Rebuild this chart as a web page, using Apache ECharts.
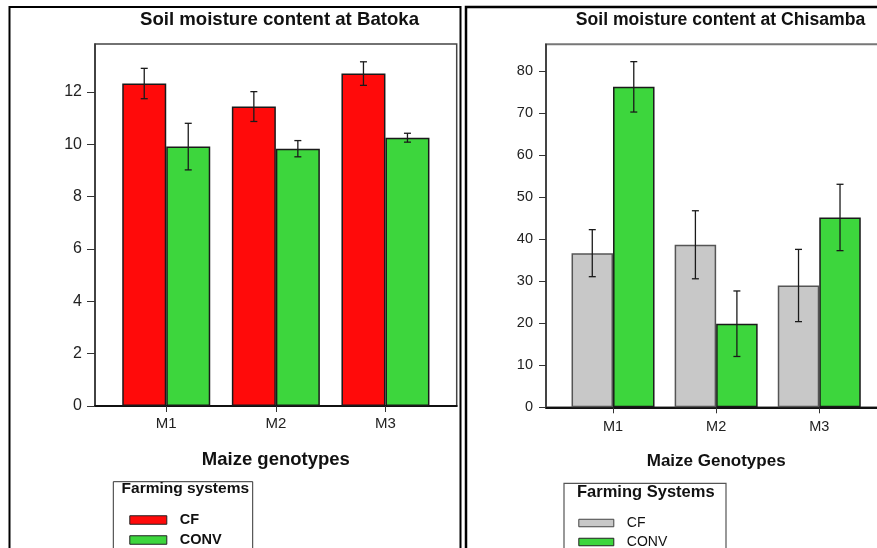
<!DOCTYPE html>
<html>
<head>
<meta charset="utf-8">
<script src="https://cdn.jsdelivr.net/npm/echarts@6/dist/echarts.min.js"></script>
<style>
html,body{margin:0;padding:0;background:#fff;}
#chart{width:877px;height:548px;}
</style>
</head>
<body>
<div id="chart"></div>
<script>
// ---- data ----
var genotypes = ['M1', 'M2', 'M3'];
var batokaCF = [12.32, 11.44, 12.70];
var batokaCFErr = [0.58, 0.57, 0.45];
var batokaCONV = [9.91, 9.83, 10.25];
var batokaCONVErr = [0.89, 0.31, 0.17];
var chisambaCF = [36.7, 38.7, 29.0];
var chisambaCFErr = [5.6, 8.1, 8.6];
var chisambaCONV = [76.3, 19.9, 45.2];
var chisambaCONVErr = [6.0, 7.8, 7.9];
var batokaYTicks = [0, 2, 4, 6, 8, 10, 12];
var chisambaYTicks = [0, 10, 20, 30, 40, 50, 60, 70, 80];
var genoPos = [1, 2, 3];

// ---- styles ----
var FONT = 'Liberation Sans, Arial, sans-serif';
var RED = '#ff0a0a', GREEN = '#3dd63d', GRAY = '#c8c8c8';
var BW_L = 44, BW_R = 41.5;

function barData(vals) { return vals.map(function (v, i) { return [genoPos[i], v]; }); }
function errData(vals, errs) { return vals.map(function (v, i) { return [genoPos[i], v, errs[i]]; }); }

function errSeries(name, vals, errs, axisIdx, offset) {
  return {
    type: 'custom', name: name + '_err', xAxisIndex: axisIdx, yAxisIndex: axisIdx, z: 10,
    silent: true,
    data: errData(vals, errs),
    renderItem: function (params, api) {
      var x = api.value(0), m = api.value(1), e = api.value(2);
      var top = api.coord([x, m + e]);
      var bot = api.coord([x, m - e]);
      var cx = top[0] + offset;
      var cap = 3.5;
      var st = { stroke: '#1a1a1a', lineWidth: 1.3 };
      return {
        type: 'group',
        children: [
          { type: 'line', shape: { x1: cx, y1: top[1], x2: cx, y2: bot[1] }, style: st },
          { type: 'line', shape: { x1: cx - cap, y1: top[1], x2: cx + cap, y2: top[1] }, style: st },
          { type: 'line', shape: { x1: cx - cap, y1: bot[1], x2: cx + cap, y2: bot[1] }, style: st }
        ]
      };
    }
  };
}

function xAxisCfg(idx, name, nameSize, nameGap, labelSize, labelMargin) {
  return {
    gridIndex: idx, type: 'value', min: 0.35, max: 3.65,
    name: name, nameLocation: 'middle', nameGap: nameGap,
    nameTextStyle: { fontFamily: FONT, fontWeight: 'bold', fontSize: nameSize, color: '#111' },
    axisLine: { show: true, onZero: false, lineStyle: { color: '#111', width: 2 } },
    axisTick: { show: true, length: 6, customValues: genoPos, lineStyle: { color: '#333', width: 1 } },
    axisLabel: {
      customValues: genoPos, margin: labelMargin,
      fontFamily: FONT, fontSize: labelSize, color: '#222',
      formatter: function (v) { return genotypes[Math.round(v) - 1] || ''; }
    },
    splitLine: { show: false }
  };
}

function yAxisCfg(idx, max, ticks, labelSize, tickLen) {
  return {
    gridIndex: idx, type: 'value', min: 0, max: max,
    axisLine: { show: true, lineStyle: { color: '#333', width: 1.5 } },
    axisTick: { show: true, length: tickLen, customValues: ticks, lineStyle: { color: '#333', width: 1 } },
    axisLabel: { customValues: ticks, margin: 13, fontFamily: FONT, fontSize: labelSize, color: '#222' },
    splitLine: { show: false }
  };
}

var chart = echarts.init(document.getElementById('chart'), null, { renderer: 'canvas' });

var option = {
  backgroundColor: '#fff',
  animation: false,
  grid: [
    { left: 95, top: 44, width: 361.7, height: 362, show: true, borderColor: '#444', borderWidth: 1.5, containLabel: false, outerBoundsMode: 'none' },
    { left: 546, top: 44.3, width: 340.3, height: 363, show: true, borderColor: '#777', borderWidth: 2, containLabel: false, outerBoundsMode: 'none' }
  ],
  xAxis: [
    xAxisCfg(0, 'Maize genotypes', 18.5, 44, 15, 10),
    xAxisCfg(1, 'Maize Genotypes', 17, 46, 14.5, 12)
  ],
  yAxis: [
    yAxisCfg(0, 13.83, batokaYTicks, 16, 8),
    yAxisCfg(1, 86.43, chisambaYTicks, 14.5, 7)
  ],
  legend: [
    {
      left: 129.3, top: 511.5, width: 120, height: 80, orient: 'vertical', padding: 0,
      itemWidth: 37, itemHeight: 8.5, itemGap: 3, icon: 'rect',
      selectedMode: false,
      textStyle: { fontFamily: FONT, fontWeight: 'bold', fontSize: 14.5, lineHeight: 12, color: '#111', padding: [0, 0, 5, 8] },
      data: [
        { name: 'CF', itemStyle: { color: RED, borderColor: '#222', borderWidth: 1 } },
        { name: 'CONV', itemStyle: { color: GREEN, borderColor: '#222', borderWidth: 1 } }
      ]
    },
    {
      left: 578.3, top: 514.5, width: 140, height: 80, orient: 'vertical', padding: 0,
      itemWidth: 35, itemHeight: 7.5, itemGap: 2, icon: 'rect',
      selectedMode: false,
      textStyle: { fontFamily: FONT, fontSize: 14, lineHeight: 12, color: '#111', padding: [0, 0, 5, 8] },
      data: [
        { name: 'CF', itemStyle: { color: GRAY, borderColor: '#444', borderWidth: 1 } },
        { name: 'CONV', itemStyle: { color: GREEN, borderColor: '#222', borderWidth: 1 } }
      ]
    }
  ],
  series: [
    {
      name: 'CF', type: 'bar', xAxisIndex: 0, yAxisIndex: 0, barWidth: BW_L, barGap: '0%',
      itemStyle: { color: RED, borderColor: '#1a1a1a', borderWidth: 1.5 },
      data: barData(batokaCF)
    },
    {
      name: 'CONV', type: 'bar', xAxisIndex: 0, yAxisIndex: 0, barWidth: BW_L, barGap: '0%',
      itemStyle: { color: GREEN, borderColor: '#1a1a1a', borderWidth: 1.5 },
      data: barData(batokaCONV)
    },
    {
      name: 'CF', type: 'bar', xAxisIndex: 1, yAxisIndex: 1, barWidth: BW_R, barGap: '0%',
      itemStyle: { color: GRAY, borderColor: '#555', borderWidth: 1.5 },
      data: barData(chisambaCF)
    },
    {
      name: 'CONV', type: 'bar', xAxisIndex: 1, yAxisIndex: 1, barWidth: BW_R, barGap: '0%',
      itemStyle: { color: GREEN, borderColor: '#1a1a1a', borderWidth: 1.5 },
      data: barData(chisambaCONV)
    },
    errSeries('bCF', batokaCF, batokaCFErr, 0, -BW_L / 2),
    errSeries('bCONV', batokaCONV, batokaCONVErr, 0, BW_L / 2),
    errSeries('cCF', chisambaCF, chisambaCFErr, 1, -BW_R / 2),
    errSeries('cCONV', chisambaCONV, chisambaCONVErr, 1, BW_R / 2)
  ],
  graphic: [
    { type: 'rect', shape: { x: 9.5, y: 7, width: 451, height: 600 }, style: { fill: 'none', stroke: '#000', lineWidth: 2 }, z: 100, silent: true },
    { type: 'rect', shape: { x: 466, y: 7, width: 440, height: 600 }, style: { fill: 'none', stroke: '#000', lineWidth: 2.5 }, z: 100, silent: true },
    { type: 'text', x: 279.5, y: 20, style: { text: 'Soil moisture content at Batoka', fontFamily: FONT, fontWeight: 'bold', fontSize: 18.6, fill: '#111', textAlign: 'center', textVerticalAlign: 'middle' }, z: 100 },
    { type: 'text', x: 720.5, y: 20, style: { text: 'Soil moisture content at Chisamba', fontFamily: FONT, fontWeight: 'bold', fontSize: 17.6, fill: '#111', textAlign: 'center', textVerticalAlign: 'middle' }, z: 100 },
    { type: 'rect', shape: { x: 113.3, y: 481.7, width: 139.4, height: 100 }, style: { fill: 'none', stroke: '#333', lineWidth: 1 }, z: 90, silent: true },
    { type: 'text', x: 185.3, y: 488.5, style: { text: 'Farming systems', fontFamily: FONT, fontWeight: 'bold', fontSize: 15.5, fill: '#111', textAlign: 'center', textVerticalAlign: 'middle' }, z: 100 },
    { type: 'rect', shape: { x: 564, y: 483.3, width: 162, height: 100 }, style: { fill: 'none', stroke: '#555', lineWidth: 1.2 }, z: 90, silent: true },
    { type: 'text', x: 645.8, y: 492.3, style: { text: 'Farming Systems', fontFamily: FONT, fontWeight: 'bold', fontSize: 16.5, fill: '#111', textAlign: 'center', textVerticalAlign: 'middle' }, z: 100 }
  ]
};

chart.setOption(option);
</script>
</body>
</html>
